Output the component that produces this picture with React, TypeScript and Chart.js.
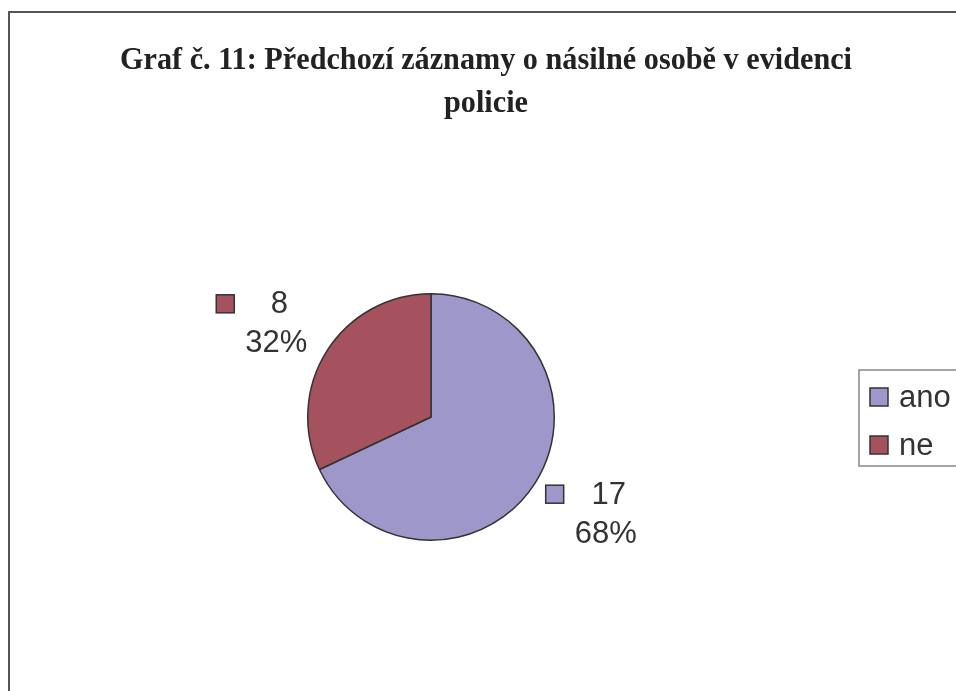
import React, { useEffect, useRef } from "react";
import { Chart, registerables } from "chart.js";
Chart.register(...registerables);

const categories = ["ano", "ne"];
const counts = [17, 8];
const percentLabels = ["68%", "32%"];
const sliceColors = ["#9D97CA", "#A6525E"];
const titleLines = ["Graf č. 11: Předchozí záznamy o násilné osobě v evidenci", "policie"];
const labelNudges = [
  [20, -2],
  [0, 4],
];

const W = 956;
const H = 691;

const overlayPlugin = {
  id: "overlay",
  afterDraw(chart: any) {
    const ctx = chart.ctx as CanvasRenderingContext2D;
    ctx.save();
    // frame
    ctx.strokeStyle = "#555555";
    ctx.lineWidth = 2;
    ctx.strokeRect(9, 12, W + 20, H + 20);

    // title (slightly condensed serif)
    ctx.fillStyle = "#222222";
    ctx.font = "bold 31px 'Liberation Serif', 'Times New Roman', serif";
    ctx.textAlign = "center";
    ctx.textBaseline = "middle";
    ctx.save();
    ctx.translate(486, 0);
    ctx.scale(0.975, 1);
    ctx.fillText(titleLines[0], 0, 61);
    ctx.fillText(titleLines[1], 0, 104);
    ctx.restore();

    // data labels
    const meta = chart.getDatasetMeta(0);
    const font = "31px 'Liberation Sans', Arial, sans-serif";
    ctx.font = font;
    meta.data.forEach((arc: any, i: number) => {
      const mid = (arc.startAngle + arc.endAngle) / 2;
      const dist = arc.outerRadius + 60;
      const bx = arc.x + Math.cos(mid) * dist + labelNudges[i][0];
      const by = arc.y + Math.sin(mid) * dist + labelNudges[i][1];
      const numTxt = String(counts[i]);
      const pctTxt = percentLabels[i];
      const wPct = ctx.measureText(pctTxt).width;
      const wNum = ctx.measureText(numTxt).width;
      const blockW = Math.max(wPct, wNum);
      const y1 = by - 19;
      const y2 = by + 20;
      ctx.fillStyle = "#333333";
      ctx.textAlign = "center";
      ctx.fillText(numTxt, bx + 3, y1 + 1);
      ctx.fillText(pctTxt, bx, y2 + 1);
      const sx = bx - blockW / 2 - 29;
      const sy = y1 - 9;
      ctx.fillStyle = sliceColors[i];
      ctx.fillRect(sx, sy, 18, 18);
      ctx.strokeStyle = "#333333";
      ctx.lineWidth = 1.5;
      ctx.strokeRect(sx, sy, 18, 18);
    });

    // legend
    ctx.strokeStyle = "#888888";
    ctx.lineWidth = 1.5;
    ctx.strokeRect(859, 370, 120, 96);
    categories.forEach((c, i) => {
      const y = 397 + i * 48;
      ctx.fillStyle = sliceColors[i];
      ctx.fillRect(870, y - 9, 18, 18);
      ctx.strokeStyle = "#333333";
      ctx.lineWidth = 1.5;
      ctx.strokeRect(870, y - 9, 18, 18);
      ctx.fillStyle = "#333333";
      ctx.textAlign = "left";
      ctx.font = font;
      ctx.fillText(c, 899, y + 1);
    });
    ctx.restore();
  },
};

export default function App() {
  const ref = useRef<HTMLCanvasElement | null>(null);
  useEffect(() => {
    if (!ref.current) return;
    const chart = new Chart(ref.current, {
      type: "pie",
      data: {
        labels: categories,
        datasets: [
          {
            data: counts,
            backgroundColor: sliceColors,
            borderColor: "#333333",
            borderWidth: 1.5,
          },
        ],
      },
      options: {
        responsive: false,
        animation: false,
        events: [],
        layout: { padding: { left: 307, right: W - 555, top: 293, bottom: H - 541 } },
        plugins: {
          legend: { display: false },
          title: { display: false },
          tooltip: { enabled: false },
        },
      },
      plugins: [overlayPlugin],
    });
    return () => chart.destroy();
  }, []);
  return (
    <div style={{ position: "fixed", left: 0, top: 0, width: W, height: H, overflow: "hidden", background: "#fff" }}>
      <canvas ref={ref} width={W} height={H} style={{ width: W, height: H, display: "block" }} />
    </div>
  );
}
